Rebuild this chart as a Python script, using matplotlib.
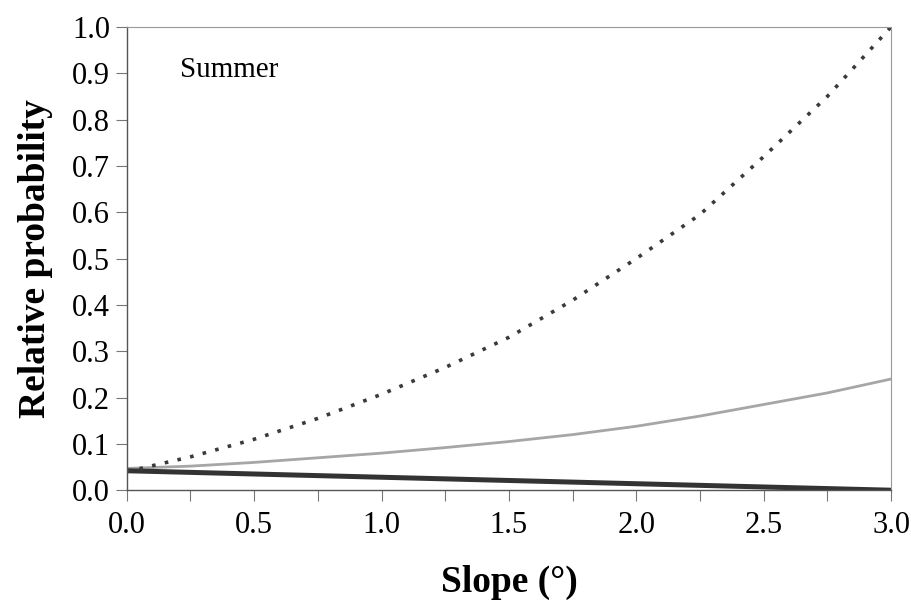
import matplotlib
matplotlib.use("Agg")
import matplotlib.pyplot as plt
from matplotlib.ticker import MultipleLocator

plt.rcParams['font.family'] = ['Liberation Serif', 'DejaVu Serif']

# slope values (degrees) and relative probabilities
slope = [0.0, 0.25, 0.5, 0.75, 1.0, 1.25, 1.5, 1.75, 2.0, 2.25, 2.5, 2.75, 3.0]
dotted = [0.04, 0.072, 0.11, 0.155, 0.207, 0.265, 0.33, 0.41, 0.50, 0.595, 0.72, 0.85, 1.0]
gray = [0.047, 0.052, 0.06, 0.07, 0.08, 0.092, 0.105, 0.12, 0.138, 0.16, 0.185, 0.21, 0.24]
black = [0.042, 0.0385, 0.035, 0.0315, 0.028, 0.0245, 0.021, 0.0175, 0.014, 0.0105, 0.007, 0.0035, 0.0]

fig = plt.figure(figsize=(9.12, 6.12), dpi=100)
ax = fig.add_axes([0.139, 0.199, 0.838, 0.757])

ax.plot(slope, gray, color='#a6a6a6', lw=2.0)
ax.plot(slope, black, color='#333333', lw=3.6, solid_capstyle='butt')
ax.plot(slope, dotted, color='#3a3a3a', lw=2.6, linestyle=(0, (1, 2.6)))

ax.set_xlim(0, 3)
ax.set_ylim(0, 1)
ax.xaxis.set_major_locator(MultipleLocator(0.5))
ax.xaxis.set_minor_locator(MultipleLocator(0.25))
ax.yaxis.set_major_locator(MultipleLocator(0.1))
ax.xaxis.set_major_formatter(lambda v, p: f"{v:.1f}")
ax.yaxis.set_major_formatter(lambda v, p: f"{v:.1f}")

ax.tick_params(axis='both', which='both', direction='out', length=8, width=0.8,
               color='#777777', labelsize=22, pad=4)
ax.tick_params(axis='x', pad=7)
ax.tick_params(axis='x', which='minor', length=8)

for s in ['left', 'bottom']:
    ax.spines[s].set_color('#555555')
    ax.spines[s].set_linewidth(1.0)
for s in ['top', 'right']:
    ax.spines[s].set_color('#999999')
    ax.spines[s].set_linewidth(0.8)

ax.set_xlabel('Slope (°)', fontsize=27, fontweight='bold', labelpad=18)
ax.set_ylabel('Relative probability', fontsize=27, fontweight='bold', labelpad=14)

ax.text(0.21, 0.907, 'Summer', fontsize=21, va='center', ha='left')

fig.savefig('out.png', dpi=100)
